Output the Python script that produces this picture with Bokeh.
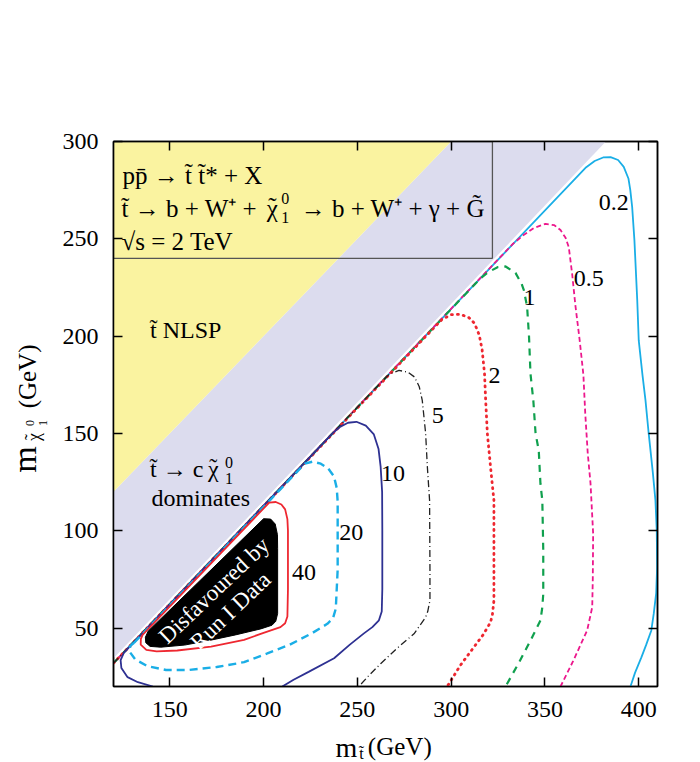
from bokeh.plotting import figure
from bokeh.models import Range1d, LinearAxis, FixedTicker
from bokeh.layouts import column, row
from bokeh.embed import file_html
from bokeh.resources import INLINE
from bokeh.core.properties import value

FONT = "Liberation Serif"

# ---- axes ----
x_ticks = [150, 200, 250, 300, 350, 400]
y_ticks = [50, 100, 150, 200, 250, 300]

# ---- shaded regions ----
nlsp_x = [120, 120, 300]
nlsp_y = [120, 300, 300]
charm_x = [120, 120, 300, 382.5]
charm_y = [34.5, 120, 300, 300]
box_x = [120, 322]
box_y = [240, 300]

# ---- region disfavoured by Run I ----
excl_x = [138.5, 200, 203.8, 206.2, 207.4, 207.5, 207.5, 206.5, 204.5, 198.5, 185, 171.8, 158, 145.2, 139.5, 137.2, 137]
excl_y = [48.5, 106.2, 106, 103.5, 98, 91, 57.5, 53.5, 51.5, 49.6, 46.5, 43.8, 41.3, 40.2, 40.6, 42.5, 45.3]

# ---- cross-section contours (fb) ----
c02_x = [120, 372, 376.5, 381, 385, 389, 392, 394.5, 395.5, 396.5, 397.7, 399.2, 400, 402, 403.6, 405.3, 407.5, 408.9, 409.6, 409.8, 409.3, 408, 406.7, 404, 401.4, 398, 395.6]
c02_y = [32, 286.8, 290, 291.8, 292, 290.5, 287, 281, 275, 266.3, 249.2, 218.4, 197.8, 180, 167, 150, 130, 115.6, 100, 81.3, 68, 57.4, 48.8, 41.5, 35, 27, 20]

c05_x = [120, 333, 338, 344, 350.3, 355, 358.3, 361, 362.7, 364.5, 366.2, 368.5, 370.5, 371.5, 372.8, 374.3, 375.7, 375.5, 375.2, 372.5, 365, 358.3]
c05_y = [32, 247.5, 251.5, 255.5, 257.7, 257, 254.5, 250.5, 245.7, 232, 216, 198, 180, 160, 140, 124.2, 98.5, 75, 60.7, 48.8, 33, 20]

c1_x = [120, 312, 316, 320, 325, 329, 334.3, 337.5, 338.8, 340.5, 341.5, 342.3, 343.8, 345, 346.7, 347.6, 348.6, 349.1, 349.1, 348.6, 347.6, 344.1, 342.3, 336, 329]
c1_y = [32, 226, 230, 233, 235.5, 235.8, 232.5, 227, 223.5, 215, 200, 180.6, 167, 150, 141.3, 124.2, 115.6, 89.9, 67.6, 60.7, 53.9, 47.1, 43.6, 32, 20]

c2_x = [120, 295, 300, 305, 309.5, 312.5, 315, 316.5, 317.8, 318.4, 319.3, 321, 322.8, 322.8, 322, 321, 317, 312.1, 305, 297.9]
c2_y = [32, 208.5, 211, 211.2, 209.5, 206.5, 200.5, 193, 180.6, 167, 150, 132.7, 115.6, 64.2, 57, 53, 46.5, 40.2, 31, 20]

c5_x = [120, 263, 267, 272.2, 277, 280.5, 283, 284.6, 286.4, 287.3, 288.5, 288.7, 288.7, 287.5, 286.4, 280.2, 271, 262.4, 256, 250.8]
c5_y = [32, 176.6, 180.5, 182.4, 181.5, 179, 174, 167, 150, 133, 115.6, 80, 64.2, 58.5, 55.6, 47.1, 39.5, 31.7, 25.5, 20]

c10_x = [141, 133, 127.5, 124.2, 123.8, 125.5, 237, 241, 245, 249.5, 254.5, 258.8, 261.3, 262.4, 263.2, 263.3, 263.3, 263, 261.5, 258, 253.5, 246, 237.6, 224, 216, 210]
c10_y = [20, 22.2, 24.8, 29.5, 33.5, 37.3, 150.3, 153.5, 155.5, 156, 154, 149.5, 142, 133, 120, 100, 70, 58.5, 54, 50.5, 47.3, 41.5, 34.5, 27.5, 23.5, 20]

c20_x = [131, 222, 226, 230.5, 234.5, 237.5, 239, 239.5, 239.5, 238.5, 237, 234, 226, 214, 202, 189.6, 175, 160, 148, 138, 131.5, 128.5, 129, 131]
c20_y = [42.5, 134.5, 135.5, 134.5, 132, 128, 122, 115, 80, 60, 55, 52.2, 47.5, 41.5, 37, 32.5, 30, 28.5, 28.5, 30.5, 34, 38, 41, 42.5]

c40_x = [135.5, 203, 206.5, 209.5, 211.5, 212.7, 213, 213, 212.7, 211.5, 209, 200, 189.6, 172, 154, 143, 137.5, 134.5, 134.6, 135.5]
c40_y = [46.5, 114.5, 114.8, 113.5, 111, 106, 100, 70, 56, 52.5, 50.5, 47.5, 44, 40.5, 38.5, 38, 38.8, 41.5, 44.5, 46.5]

# contour labels
lab_text = ["0.2", "0.5", "1", "2", "5", "10", "20", "40"]
lab_x = [386.7, 373.4, 341.8, 323.1, 292.9, 269.0, 246.8, 221.5]
lab_y = [268.9, 229.5, 220.0, 179.8, 159.3, 129.3, 99.3, 78.7]

YELLOW = "#FAF3A0"
LAVENDER = "#DCDCEE"
RED = "#EE2730"
CYAN = "#1AAEE6"
NAVY = "#2E3192"
GREEN = "#10A04E"
MAGENTA = "#EC178C"

TOP, FRAME_H, LEFT_MAIN, FRAME_W, RIGHT = 141, 545, 63, 544, 43
MAIN_H = 731
BOTTOM = MAIN_H - TOP - FRAME_H

p = figure(x_range=Range1d(120, 410), y_range=Range1d(20, 300),
           frame_width=FRAME_W, frame_height=FRAME_H,
           min_border_left=LEFT_MAIN, min_border_right=RIGHT,
           min_border_top=TOP, min_border_bottom=BOTTOM,
           output_backend="svg", toolbar_location=None,
           background_fill_color="white", border_fill_color="white")
p.grid.visible = False
p.outline_line_color = "black"
p.outline_line_width = 1.5


def style_axis(ax, labels=True):
    ax.major_tick_in = 9
    ax.major_tick_out = 0
    ax.minor_tick_line_color = None
    ax.axis_line_color = "black"
    ax.axis_line_width = 1.5
    ax.major_tick_line_width = 1.5
    ax.major_tick_line_color = "black"
    ax.major_label_text_font = FONT
    ax.major_label_text_font_size = "24px"
    ax.major_label_text_color = "black"
    if not labels:
        ax.major_label_text_color = None
        ax.major_label_standoff = 0


p.xaxis.ticker = FixedTicker(ticks=x_ticks)
p.yaxis.ticker = FixedTicker(ticks=y_ticks)
style_axis(p.xaxis[0])
style_axis(p.yaxis[0])
p.xaxis.major_label_standoff = 15
p.yaxis.major_label_standoff = 15

top = LinearAxis(ticker=FixedTicker(ticks=x_ticks),
                 major_label_overrides={v: "" for v in x_ticks})
style_axis(top, labels=False)
p.add_layout(top, "above")
right = LinearAxis(ticker=FixedTicker(ticks=y_ticks),
                   major_label_overrides={v: "" for v in y_ticks})
style_axis(right, labels=False)
p.add_layout(right, "right")

# regions
p.patch(charm_x, charm_y, fill_color=LAVENDER, line_color=None)
p.patch(nlsp_x, nlsp_y, fill_color=YELLOW, line_color=None)
p.quad(left=box_x[0], right=box_x[1], bottom=box_y[0], top=box_y[1],
       fill_color=None, line_color="#555555", line_width=1.3)

# contours
p.line(c02_x, c02_y, line_color=CYAN, line_width=1.8)
p.line(c05_x, c05_y, line_color=MAGENTA, line_width=1.8, line_dash="5 3")
p.line(c1_x, c1_y, line_color=GREEN, line_width=2.2, line_dash="7 6")
p.line(c2_x, c2_y, line_color=RED, line_width=2.8, line_dash="1 5", line_cap="round")
p.line(c5_x, c5_y, line_color="#222222", line_width=1.3, line_dash="7 3 1 3")
p.line(c10_x, c10_y, line_color=NAVY, line_width=1.8)
p.line(c20_x, c20_y, line_color=CYAN, line_width=2.4, line_dash="8 5")
p.line(c40_x, c40_y, line_color=RED, line_width=1.8)

p.patch(excl_x, excl_y, fill_color="black", line_color="black", line_width=1)

# contour labels
p.text(lab_x, lab_y, text=lab_text, text_font=value(FONT), text_font_size="24px",
       text_align="center", text_baseline="middle", text_color="black")

# disfavoured text
p.text([173.6, 183.4], [69.3, 59.9], text=["Disfavoured by", "Run I  Data"],
       text_font=value(FONT), text_font_size="23px", text_color="white",
       text_align="center", text_baseline="middle", angle=0.76)


def t(fig, x, y, s, size="24px", align="left", angle=0.0):
    fig.text([x], [y], text=[s], text_font=value(FONT), text_font_size=size,
             text_align=align, text_baseline="middle", text_color="black",
             angle=angle)


# box text
t(p, 124.8, 282.6, "pp\u0304 \u2192 t\u0303 t\u0303* + X", size="25px")
t(p, 124.3, 265.5, "t\u0303 \u2192 b + W\u207a +", size="25px")
t(p, 204.7, 265.5, "\u03c7", size="25px", align="center")
t(p, 204.7, 266.8, "\u02dc", size="25px", align="center")
t(p, 209.4, 270.6, "0", size="16px")
t(p, 209.4, 260.7, "1", size="16px")
t(p, 219.8, 265.5, "\u2192 b + W\u207a + \u03b3 + G\u0303", size="25px")
t(p, 124.3, 248.8, "\u221as = 2 TeV", size="25px")

# region labels
t(p, 139.5, 203.1, "t\u0303  NLSP")
t(p, 139.5, 131.5, "t\u0303 \u2192 c")
t(p, 173.2, 131.5, "\u03c7", align="center")
t(p, 173.2, 132.8, "\u02dc", align="center")
t(p, 179.5, 135.3, "0", size="16px")
t(p, 179.5, 127.1, "1", size="16px")
t(p, 140.2, 117.1, "dominates")


def blank(w, h, xr, yr, left=0, right=0, top=0, bottom=0):
    f = figure(width=w, height=h, x_range=xr, y_range=yr,
               title=None, min_border=0, min_border_left=left, min_border_right=right,
               min_border_top=top, min_border_bottom=bottom,
               output_backend="svg", toolbar_location=None,
               x_axis_location=None, y_axis_location=None,
               background_fill_color="white", border_fill_color="white")
    f.grid.visible = False
    f.outline_line_color = None
    return f


# y-axis title (rotated); its panel frame lines up with the main frame vertically
yt = blank(50, MAIN_H, Range1d(0, 50), Range1d(20, 300), top=TOP, bottom=BOTTOM)
t(yt, 23.5, 136.6, "m", size="34px", align="center", angle=1.5708)
t(yt, 33.9, 148.2, "\u03c7", size="18px", align="center", angle=1.5708)
t(yt, 31.9, 148.2, "\u02dc", size="18px", align="center", angle=1.5708)
t(yt, 29, 155.4, "0", size="12px", align="center", angle=1.5708)
t(yt, 42, 155.4, "1", size="12px", align="center", angle=1.5708)
t(yt, 26.6, 179.3, "(GeV)", size="25px", align="center", angle=1.5708)

# x-axis title; its panel frame lines up with the main frame horizontally
XT_H = 762 - MAIN_H
xt = blank(700, XT_H, Range1d(120, 410), Range1d(0, XT_H),
           left=50 + LEFT_MAIN, right=RIGHT)
t(xt, 244.1, 15.5, "m", size="28px", align="center")
t(xt, 251.0, 9.0, "t\u0303", size="16px")
t(xt, 255.6, 16.4, "(GeV)", size="25px")

layout = column(row(yt, p), xt)
open("out.html", "w").write(file_html(layout, INLINE))
